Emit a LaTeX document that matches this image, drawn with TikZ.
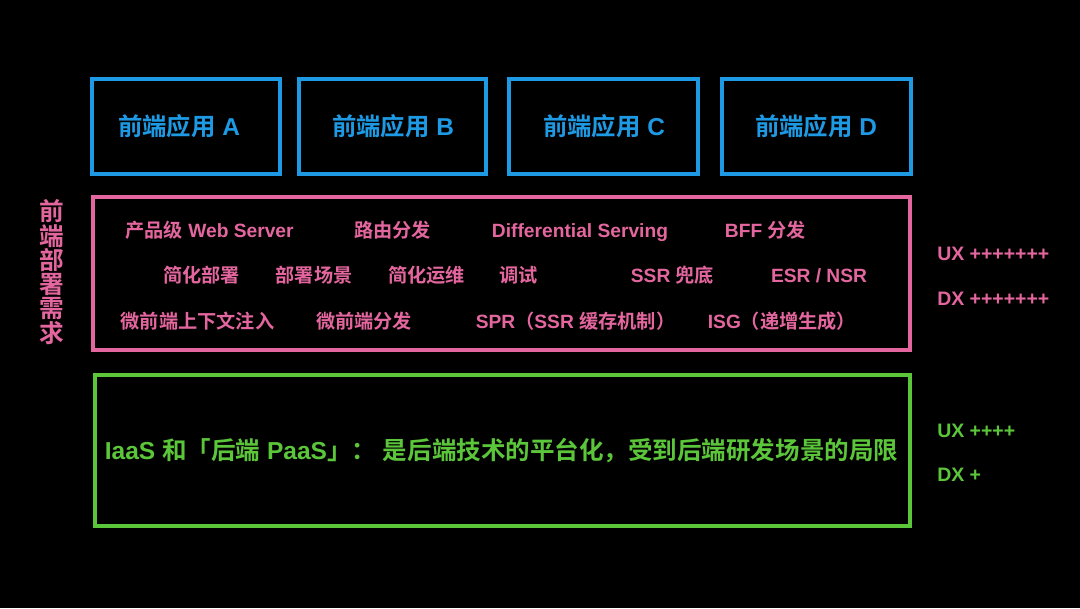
\documentclass[tikz,border=0pt]{standalone}
\usepackage{fontspec}
\setmainfont{Liberation Sans}
\newfontfamily\cjk{Noto Sans CJK SC}[BoldFont={Noto Sans CJK SC Bold}]
\newcommand\zh[1]{{\cjk #1}}
\definecolor{appblue}{RGB}{30,154,228}
\definecolor{reqpink}{RGB}{228,102,158}
\definecolor{infgreen}{RGB}{92,198,58}
\tikzset{
  frame/.style={draw=#1, line width=3pt, inner sep=0pt, fill=none},
  even/.style={text height=1.2em, text depth=0em},
  apptext/.style={text=appblue, inner sep=0pt, even, font=\fontsize{18.3}{22}\selectfont\bfseries},
  reqtext/.style={text=reqpink, inner sep=0pt, even, font=\fontsize{14.4}{17}\selectfont\bfseries},
  gtext/.style={text=infgreen, inner sep=0pt, even, font=\fontsize{18.4}{22}\selectfont\bfseries},
  score/.style={inner sep=0pt, anchor=west, text height=1.1em, text depth=0em, font=\fontsize{14.6}{17}\selectfont\bfseries},
}
\begin{document}
\begin{tikzpicture}[x=0.75pt,y=-0.75pt]
\fill[black] (0,0) rectangle (1080,608);
\useasboundingbox (0,0) rectangle (1080,608);
% app boxes
\node[frame=appblue, minimum width=141pt, minimum height=71.25pt] (boxA) at (186,126.5) {};
\node[frame=appblue, minimum width=140.25pt, minimum height=71.25pt] (boxB) at (392.5,126.5) {};
\node[frame=appblue, minimum width=141.75pt, minimum height=71.25pt] (boxC) at (603.5,126.5) {};
\node[frame=appblue, minimum width=141.75pt, minimum height=71.25pt] (boxD) at (816.5,126.5) {};
\node[apptext] (tA) at (179,127) {\zh{前端应用} A};
\node[apptext] (tB) at (393,127) {\zh{前端应用} B};
\node[apptext] (tC) at (604,127) {\zh{前端应用} C};
\node[apptext] (tD) at (816,127) {\zh{前端应用} D};
% requirement box
\node[frame=reqpink, minimum width=612.75pt, minimum height=114.75pt] (req) at (501.5,273.5) {};
\node[reqtext] (r11) at (209.5,229) {\zh{产品级} Web Server};
\node[reqtext] (r12) at (392.5,229) {\zh{路由分发}};
\node[reqtext] (r13) at (580,229) {Differential Serving};
\node[reqtext] (r14) at (765.5,229) {BFF \zh{分发}};
\node[reqtext] (r21) at (201.5,274) {\zh{简化部署}};
\node[reqtext] (r22) at (314,274) {\zh{部署场景}};
\node[reqtext] (r23) at (426.5,274) {\zh{简化运维}};
\node[reqtext] (r24) at (518.5,274) {\zh{调试}};
\node[reqtext] (r25) at (672.5,274) {SSR \zh{兜底}};
\node[reqtext] (r26) at (819,274) {ESR / NSR};
\node[reqtext] (r31) at (197.5,320) {\zh{微前端上下文注入}};
\node[reqtext] (r32) at (364,320) {\zh{微前端分发}};
\node[reqtext] (r33) at (575.5,320) {SPR\zh{（}SSR \zh{缓存机制）}};
\node[reqtext] (r34) at (782,320) {ISG\zh{（递增生成）}};
\node[text=reqpink, inner sep=0pt, align=center, font=\fontsize{18.5}{18.2}\selectfont\bfseries\cjk] (side) at (52,272) {前\\端\\部\\署\\需\\求};
\node[score, text=reqpink] (ux1) at (937,253) {UX +++++++};
\node[score, text=reqpink] (dx1) at (937,298) {DX +++++++};
% infrastructure box
\node[frame=infgreen, minimum width=611.25pt, minimum height=113.25pt] (inf) at (502.5,450.5) {};
\node[gtext] (g) at (501.5,451) {IaaS \zh{和「后端} PaaS\zh{」：} \zh{是后端技术的平台化，受到后端研发场景的局限}};
\node[score, text=infgreen] (ux2) at (937,430) {UX ++++};
\node[score, text=infgreen] (dx2) at (937,474) {DX +};
\end{tikzpicture}
\end{document}
